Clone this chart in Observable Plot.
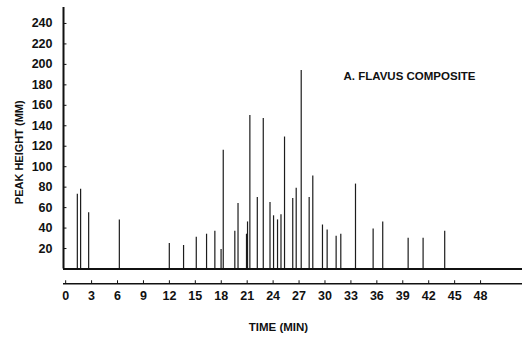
<!DOCTYPE html>
<html>
<head>
<meta charset="utf-8">
<script src="https://cdn.jsdelivr.net/npm/d3@7"></script>
<script src="https://cdn.jsdelivr.net/npm/@observablehq/plot@0.6"></script>
<style>
  html, body { margin: 0; padding: 0; background: #fff; }
  #chart svg { display: block; }
</style>
</head>
<body>
<div id="chart"></div>
<script>
// Retention times (min) and peak heights (mm)
const times = [1.35, 1.73, 2.66, 6.21, 11.99, 13.64, 15.11, 16.30, 17.26, 17.98, 18.23,
  19.57, 19.94, 20.92, 21.04, 21.31, 22.17, 22.86, 23.64, 24.05, 24.51, 24.91, 25.32,
  26.27, 26.67, 27.25, 28.17, 28.59, 29.71, 30.25, 31.29, 31.83, 33.53, 35.57, 36.68,
  39.62, 41.35, 43.85];
const heights = [73, 78, 55, 48, 25, 23, 31, 34, 37, 19, 116,
  37, 64, 34, 46, 150, 70, 147, 65, 52, 48, 53, 129,
  69, 79, 194, 70, 91, 43, 38, 32, 34, 83, 39, 46,
  30, 30, 37];
const xTicks = [0, 3, 6, 9, 12, 15, 18, 21, 24, 27, 30, 33, 36, 39, 42, 45, 48];
const yTicks = [20, 40, 60, 80, 100, 120, 140, 160, 180, 200, 220, 240];
const chartTitle = ["A. FLAVUS COMPOSITE"];
const xLabel = ["TIME (MIN)"];
const yLabel = ["PEAK HEIGHT (MM)"];

const peaks = times.map((t, i) => ({t, h: heights[i]}));
const xDomain = [-0.25, 52.85];
const lowerAxisY = -14.5;

const chart = Plot.plot({
  width: 522,
  height: 338,
  marginLeft: 63,
  marginRight: 0,
  marginTop: 7,
  marginBottom: 69.5,
  x: {domain: xDomain, label: null},
  y: {domain: [0, 255.6], label: null},
  style: {fontFamily: "Liberation Sans", fontSize: "12px", fontWeight: "bold", color: "#111", background: "#fff"},
  marks: [
    Plot.ruleX(peaks, {x: "t", y1: 0, y2: "h", stroke: "#1c1c1c", strokeWidth: 1.2}),
    Plot.ruleY([0], {x1: xDomain[0], x2: xDomain[1], stroke: "#111", strokeWidth: 2}),
    Plot.ruleX([xDomain[0]], {y1: 0, y2: 255.6, stroke: "#111", strokeWidth: 2}),
    Plot.ruleY(yTicks, {x1: xDomain[0], x2: xDomain[0] + 0.4, stroke: "#111", strokeWidth: 1}),
    Plot.axisY(yTicks, {anchor: "left", label: null, tickSize: 0, tickPadding: 11, fontSize: 12.5, fontWeight: "bold", fill: "#111"}),
    Plot.ruleY([lowerAxisY], {x1: xDomain[0], x2: xDomain[1], stroke: "#111", strokeWidth: 1.5}),
    Plot.ruleX(xTicks, {y1: lowerAxisY, y2: lowerAxisY + 3, stroke: "#111", strokeWidth: 1}),
    Plot.axisX(xTicks, {anchor: "bottom", label: null, tickSize: 0, tickPadding: 22, fontSize: 12.5, fontWeight: "bold", fill: "#111"}),
    Plot.text(chartTitle, {frameAnchor: "top-left", dx: 280, dy: 69, textAnchor: "start", lineAnchor: "middle", fontSize: 11.5, fontWeight: "bold", fill: "#111"}),
    Plot.text(yLabel, {frameAnchor: "left", rotate: -90, dx: -44, dy: 14, textAnchor: "middle", lineAnchor: "middle", fontSize: 11, fontWeight: "bold", fill: "#111"}),
    Plot.text(xLabel, {frameAnchor: "bottom", dx: -14.5, dy: 58.5, textAnchor: "middle", lineAnchor: "middle", fontSize: 11.5, fontWeight: "bold", fill: "#111"})
  ]
});
document.getElementById("chart").appendChild(chart);
</script>
</body>
</html>
